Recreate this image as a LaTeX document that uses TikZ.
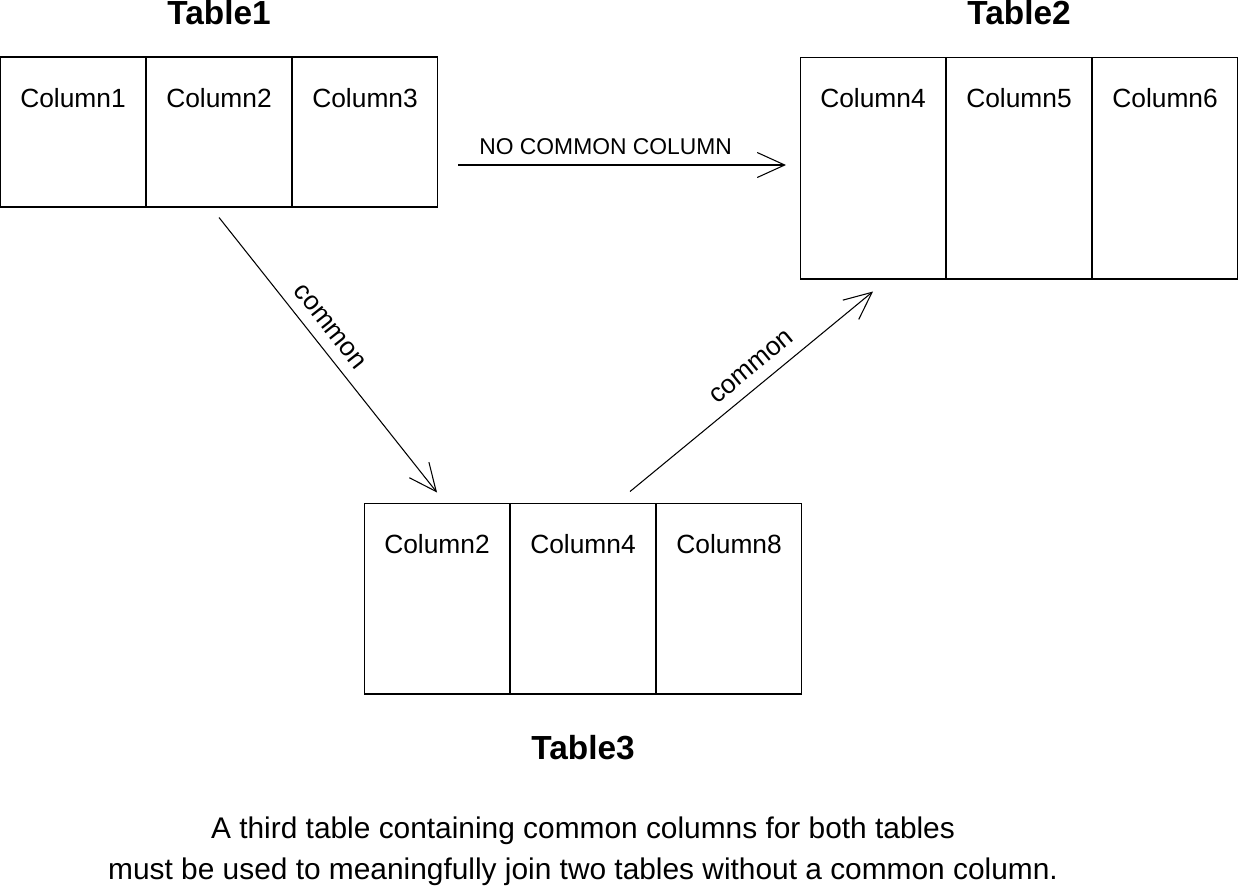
\documentclass[tikz,border=0pt]{standalone}
\usepackage{fontspec}
\setmainfont{Liberation Sans}
\usetikzlibrary{arrows.meta,positioning,calc}

\begin{document}
\begin{tikzpicture}[
    x=0.02cm, y=-0.02cm,
    line width=0.6pt,
    cell/.style={rectangle, draw, minimum width=2.9cm, inner sep=0pt},
    colname/.style={anchor=center, yshift=-0.84cm, font=\fontsize{15}{18}\selectfont},
    tname/.style={inner sep=0pt, font=\fontsize{19}{22}\selectfont\bfseries},
    arrow/.style={-{Straight Barb[length=5.5mm,width=5mm]}},
    lbl/.style={sloped, above=3pt, font=\fontsize{15}{18}\selectfont},
    note/.style={inner sep=0pt, align=center, font=\fontsize{17}{23}\selectfont}
]
    \useasboundingbox (0,0) rectangle (1238,887);

    % Table1
    \node[cell, minimum height=3cm, label={[colname]north:Column1}] (t1c1) at (73,132) {};
    \node[cell, minimum height=3cm, right=0pt of t1c1, label={[colname]north:Column2}] (t1c2) {};
    \node[cell, minimum height=3cm, right=0pt of t1c2, label={[colname]north:Column3}] (t1c3) {};
    \node[tname, above=0.62cm of t1c2] (t1name) {Table1};

    % Table2
    \node[cell, minimum height=4.44cm, label={[colname]north:Column4}] (t2c1) at (873,168) {};
    \node[cell, minimum height=4.44cm, right=0pt of t2c1, label={[colname]north:Column5}] (t2c2) {};
    \node[cell, minimum height=4.44cm, right=0pt of t2c2, label={[colname]north:Column6}] (t2c3) {};
    \node[tname, above=0.62cm of t2c2] (t2name) {Table2};

    % Table3
    \node[cell, minimum height=3.82cm, label={[colname]north:Column2}] (t3c1) at (437,598.5) {};
    \node[cell, minimum height=3.82cm, right=0pt of t3c1, label={[colname]north:Column4}] (t3c2) {};
    \node[cell, minimum height=3.82cm, right=0pt of t3c2, label={[colname]north:Column8}] (t3c3) {};
    \node[tname, below=0.8cm of t3c2] (t3name) {Table3};

    \node[note, below=2.44cm of t3c2] (note) {A third table containing common columns for both tables\\
        must be used to meaningfully join two tables without a common column.};

    \draw[arrow] ([xshift=0.4cm,yshift=-0.66cm]t1c3.east) -- ([xshift=-0.28cm,yshift=-0.66cm]t1c3.east -| t2c1.west)
        node[pos=0.45, above=2pt, font=\fontsize{13}{16}\selectfont] {NO COMMON COLUMN};
    \draw[arrow] ([yshift=-0.2cm]t1c2.south) -- ([yshift=0.2cm]t3c1.north)
        node[lbl, pos=0.44] {common};
    \draw[arrow] ([xshift=-0.52cm,yshift=0.22cm]t3c2.north east) -- ([yshift=-0.24cm]t2c1.south)
        node[lbl, pos=0.55] {common};
\end{tikzpicture}
\end{document}
